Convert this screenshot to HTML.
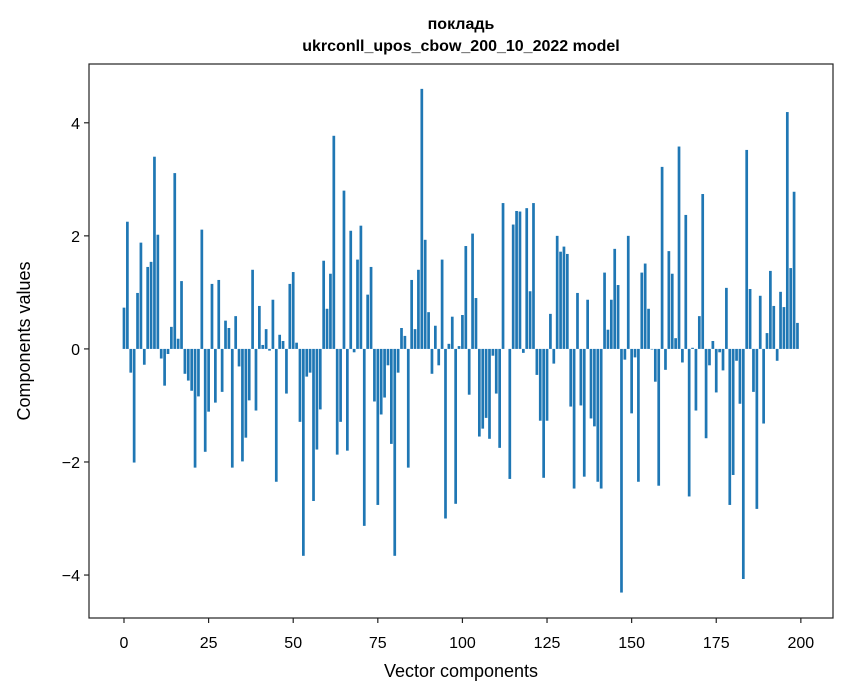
<!DOCTYPE html>
<html><head><meta charset="utf-8">
<style>
body{margin:0;background:#fff;}
svg{display:block;font-family:"Liberation Sans","DejaVu Sans",sans-serif;}
</style></head>
<body>
<svg id="chart" width="847" height="696" viewBox="0 0 847 696" xmlns="http://www.w3.org/2000/svg">
<rect width="847" height="696" fill="#fff"/>
<text x="461" y="29" text-anchor="middle" font-size="16" font-weight="bold">покладь</text>
<text x="461" y="51" text-anchor="middle" font-size="16" font-weight="bold">ukrconll_upos_cbow_200_10_2022 model</text>
<g id="bars"></g>
<g id="xticks"></g>
<g id="yticks"></g>
<rect x="89" y="64" width="744" height="554" fill="none" stroke="#222" stroke-width="1.2"/>
<text x="461" y="677" text-anchor="middle" font-size="18">Vector components</text>
<text x="0" y="0" transform="translate(30,341) rotate(-90)" text-anchor="middle" font-size="18">Components values</text>
</svg>
<script>
const values = [
0.73,2.25,-0.42,-2.01,0.99,1.88,-0.28,1.45,1.54,3.40,
2.02,-0.17,-0.65,-0.09,0.39,3.11,0.18,1.20,-0.44,-0.56,
-0.74,-2.10,-0.84,2.11,-1.82,-1.11,1.15,-0.95,1.22,-0.76,
0.50,0.37,-2.10,0.58,-0.31,-1.99,-1.57,-0.91,1.40,-1.09,
0.76,0.07,0.35,-0.03,0.87,-2.35,0.25,0.14,-0.79,1.15,
1.36,0.11,-1.29,-3.66,-0.49,-0.42,-2.69,-1.78,-1.07,1.56,
0.71,1.33,3.77,-1.87,-1.29,2.80,-1.80,2.09,-0.06,1.58,
2.18,-3.13,0.96,1.45,-0.93,-2.76,-1.16,-0.86,-0.29,-1.68,
-3.66,-0.42,0.37,0.23,-2.10,1.22,0.35,1.40,4.60,1.93,
0.65,-0.44,0.41,-0.29,1.58,-3.00,0.09,0.57,-2.74,0.05,
0.60,1.82,-0.81,2.04,0.90,-1.55,-1.41,-1.22,-1.59,-0.12,
-0.79,-1.75,2.58,0.00,-2.30,2.20,2.44,2.43,-0.07,2.49,
1.02,2.58,-0.46,-1.27,-2.28,-1.27,0.62,-0.26,2.00,1.72,
1.81,1.68,-1.02,-2.47,0.99,-1.00,-2.26,0.87,-1.23,-1.37,
-2.35,-2.47,1.35,0.34,0.87,1.77,1.13,-4.31,-0.19,2.00,
-1.14,-0.15,-2.35,1.35,1.51,0.71,-0.01,-0.58,-2.42,3.22,
-0.37,1.73,1.33,0.19,3.58,-0.24,2.37,-2.61,0.02,-1.09,
0.58,2.74,-1.58,-0.29,0.14,-0.77,-0.06,-0.38,1.08,-2.76,
-2.23,-0.21,-0.97,-4.07,3.52,1.06,-0.76,-2.83,0.94,-1.32,
0.28,1.38,0.76,-0.21,1.01,0.74,4.19,1.43,2.78,0.46
];
const xTickLabels = [0,25,50,75,100,125,150,175,200];
const yTickLabels = [-4,-2,0,2,4];

const NS='http://www.w3.org/2000/svg';
const xMin=-10.34, xMax=209.5, yMin=-4.76, yMax=5.04;
const L=89,R=833,T=64,B=618;
function xs(v){return L+(v-xMin)/(xMax-xMin)*(R-L);}
function ys(v){return B-(v-yMin)/(yMax-yMin)*(B-T);}
const bars=document.getElementById('bars');
values.forEach((v,i)=>{
  const r=document.createElementNS(NS,'rect');
  
  
  const x0=xs(i-0.4), x1=xs(i+0.4);
  const y0=ys(Math.max(v,0)), y1=ys(Math.min(v,0));
  r.setAttribute('x',x0);r.setAttribute('width',x1-x0);
  r.setAttribute('y',y0);r.setAttribute('height',Math.max(y1-y0,0.01));
  r.setAttribute('fill','#1f77b4');
  bars.appendChild(r);
});
const xt=document.getElementById('xticks');
xTickLabels.forEach(t=>{
  const x=xs(t);
  const l=document.createElementNS(NS,'line');
  
  
  l.setAttribute('x1',x);l.setAttribute('x2',x);l.setAttribute('y1',B);l.setAttribute('y2',B+5);
  l.setAttribute('stroke','#222');l.setAttribute('stroke-width','1.2');
  xt.appendChild(l);
  const tx=document.createElementNS(NS,'text');
  
  
  tx.setAttribute('x',x);tx.setAttribute('y',B+30);
  tx.setAttribute('text-anchor','middle');tx.setAttribute('font-size','16');
  tx.textContent=String(t);
  xt.appendChild(tx);
});
const yt=document.getElementById('yticks');
yTickLabels.forEach(t=>{
  const y=ys(t);
  const l=document.createElementNS(NS,'line');
  
  
  l.setAttribute('x1',L-5);l.setAttribute('x2',L);l.setAttribute('y1',y);l.setAttribute('y2',y);
  l.setAttribute('stroke','#222');l.setAttribute('stroke-width','1.2');
  yt.appendChild(l);
  const tx=document.createElementNS(NS,'text');
  
  
  tx.setAttribute('x',L-9);tx.setAttribute('y',y+6);
  tx.setAttribute('text-anchor','end');tx.setAttribute('font-size','16');
  tx.textContent=t<0?'\u2212'+Math.abs(t):String(t);
  yt.appendChild(tx);
});
</script>
</body></html>
